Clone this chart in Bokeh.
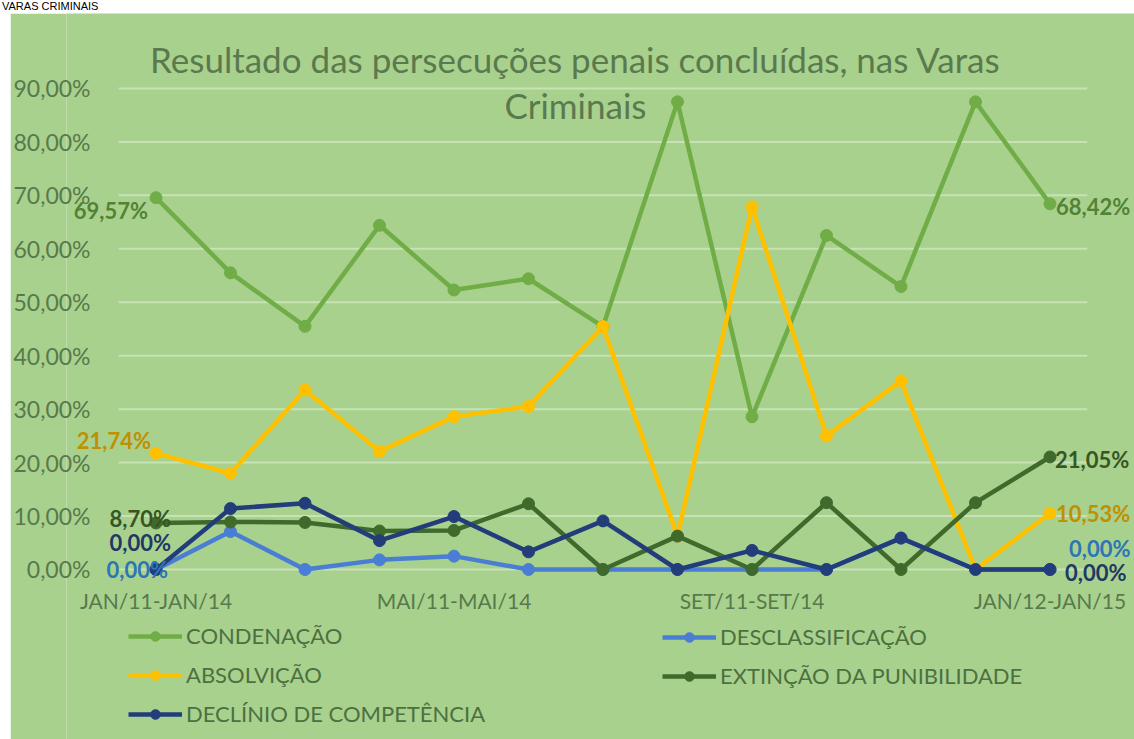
from bokeh.plotting import figure
from bokeh.layouts import column, row
from bokeh.models import (ColumnDataSource, Range1d, FixedTicker, Legend, LegendItem,
                          Label, LabelSet, Div, Spacer)
from bokeh.core.properties import value
from bokeh.embed import file_html
from bokeh.resources import INLINE

# ---------------- data ----------------
categories = ["JAN/11-JAN/14", "FEV/11-FEV/14", "MAR/11-MAR/14", "ABR/11-ABR/14",
              "MAI/11-MAI/14", "JUN/11-JUN/14", "JUL/11-JUL/14", "AGO/11-AGO/14",
              "SET/11-SET/14", "OUT/11-OUT/14", "NOV/11-NOV/14", "DEZ/11-DEZ/14",
              "JAN/12-JAN/15"]
shown_categories = ["JAN/11-JAN/14", "MAI/11-MAI/14", "SET/11-SET/14", "JAN/12-JAN/15"]

condenacao = [69.57, 55.5, 45.5, 64.4, 52.3, 54.4, 45.45, 87.5, 28.57, 62.5, 52.94, 87.5, 68.42]
desclassificacao = [0.0, 7.1, 0.0, 1.8, 2.5, 0.0, 0.0, 0.0, 0.0, 0.0, 5.88, 0.0, 0.0]
absolvicao = [21.74, 18.0, 33.6, 22.1, 28.6, 30.5, 45.45, 6.25, 67.86, 25.0, 35.29, 0.0, 10.53]
extincao = [8.70, 8.9, 8.8, 7.2, 7.3, 12.3, 0.0, 6.25, 0.0, 12.5, 0.0, 12.5, 21.05]
declinio = [0.0, 11.4, 12.4, 5.4, 9.9, 3.3, 9.09, 0.0, 3.57, 0.0, 5.88, 0.0, 0.0]

y_ticks = [0, 10, 20, 30, 40, 50, 60, 70, 80, 90]

page_heading = "VARAS CRIMINAIS"
title_line1 = "Resultado das persecuções penais concluídas, nas Varas"
title_line2 = "Criminais"

# ---------------- styles ----------------
BG = "#a9d18e"
GRID = "#c8e2b6"
AXIS_TXT = "#58794c"
FONT = "Lato"


def pct(v):
    return f"{v:.2f}%".replace(".", ",")


series = [
    # name, values, line colour, label colour
    ("CONDENAÇÃO", condenacao, "#70ad47", "#548235"),
    ("DESCLASSIFICAÇÃO", desclassificacao, "#4a7dd4", "#2e75b6"),
    ("ABSOLVIÇÃO", absolvicao, "#ffc000", "#bf9000"),
    ("EXTINÇÃO DA PUNIBILIDADE", extincao, "#3f6a2c", "#375623"),
    ("DECLÍNIO DE COMPETÊNCIA", declinio, "#223d7a", "#1f3864"),
]

xs = list(range(len(categories)))

p = figure(x_range=Range1d(-1.2013, 13.134), y_range=Range1d(-31.81, 104.03),
           width=1124, height=726, output_backend="svg", toolbar_location=None,
           min_border_left=56, min_border_right=0, min_border_top=0,
           min_border_bottom=0)
p.background_fill_color = BG
p.border_fill_color = BG
p.outline_line_color = None
p.xgrid.visible = False
p.ygrid.visible = False

# horizontal gridlines spanning the category area
p.segment(x0=-0.5, x1=len(categories) - 0.5, y0=y_ticks, y1=y_ticks,
          line_color=GRID, line_width=2)

p.yaxis.ticker = FixedTicker(ticks=y_ticks)
p.yaxis.major_label_overrides = {t: pct(t) for t in y_ticks}
shown_idx = [categories.index(c) for c in shown_categories]
p.xaxis.ticker = FixedTicker(ticks=shown_idx)
p.xaxis.major_label_overrides = {i: categories[i] for i in shown_idx}
for ax in (p.xaxis, p.yaxis):
    ax.axis_line_color = None
    ax.major_tick_line_color = None
    ax.minor_tick_line_color = None
    ax.major_label_text_font = FONT
    ax.major_label_text_color = AXIS_TXT
p.yaxis.major_label_text_font_size = "23px"
p.yaxis.major_label_standoff = -30
p.xaxis.major_label_text_font_size = "21px"
p.xaxis.major_label_standoff = -158

renderers = {}
for name, vals, col, _ in series:
    src = ColumnDataSource(dict(x=xs, y=vals))
    l = p.line("x", "y", source=src, line_color=col, line_width=4.5)
    s = p.scatter("x", "y", source=src, size=12, fill_color=col, line_color=col)
    renderers[name] = [l, s]

legend_style = dict(padding=0, margin=0, spacing=12, label_height=24, glyph_height=24,
                    glyph_width=54, label_standoff=4, background_fill_alpha=0,
                    border_line_color=None, label_text_font=FONT,
                    label_text_font_size="22px", label_text_color="#4d7040")
leg1 = Legend(items=[LegendItem(label=n, renderers=renderers[n])
                     for n in ("CONDENAÇÃO", "ABSOLVIÇÃO", "DECLÍNIO DE COMPETÊNCIA")],
              location=(62, 12), **legend_style)
leg2 = Legend(items=[LegendItem(label=n, renderers=renderers[n])
                     for n in ("DESCLASSIFICAÇÃO", "EXTINÇÃO DA PUNIBILIDADE")],
              location=(596, 50), **legend_style)
p.add_layout(leg1)
p.add_layout(leg2)

# data labels at the first and last points
left_off = {"CONDENAÇÃO": (-8, -13), "ABSOLVIÇÃO": (-5, 13), "EXTINÇÃO DA PUNIBILIDADE": (15, 4),
            "DECLÍNIO DE COMPETÊNCIA": (15, 27), "DESCLASSIFICAÇÃO": (12, 0)}
right_off = {"CONDENAÇÃO": (6, -3), "ABSOLVIÇÃO": (6, 0), "EXTINÇÃO DA PUNIBILIDADE": (5, -3),
             "DECLÍNIO DE COMPETÊNCIA": (15, -3), "DESCLASSIFICAÇÃO": (19, 21)}

for idx, offs, align in ((0, left_off, "right"), (len(xs) - 1, right_off, "left")):
    d = dict(x=[], y=[], text=[], color=[], dx=[], dy=[])
    for name, vals, _, lcol in series:
        d["x"].append(xs[idx])
        d["y"].append(vals[idx])
        d["text"].append(pct(vals[idx]))
        d["color"].append(lcol)
        d["dx"].append(offs[name][0])
        d["dy"].append(offs[name][1])
    p.add_layout(LabelSet(x="x", y="y", text="text", source=ColumnDataSource(d),
                          x_offset="dx", y_offset="dy", text_color="color",
                          text_align=align, text_baseline="middle",
                          text_font=value(FONT), text_font_style="bold",
                          text_font_size="22px"))

# two-line chart title inside the chart area
for txt, yv in ((title_line1, 95.6), (title_line2, 87.0)):
    p.add_layout(Label(x=5.63, y=yv, text=txt, text_align="center",
                       text_baseline="middle", text_font=FONT,
                       text_font_size="35px", text_color="#5a7a4e"))

heading = Div(text=page_heading, width=1134, height=13, margin=0,
              styles={"font-family": "Arial", "font-size": "11px", "line-height": "13px",
                      "color": "#000000", "padding-left": "2px"})
layout = column(heading, row(Spacer(width=10, height=726, margin=0), p, margin=0),
                margin=0, spacing=0)

open("out.html", "w").write(file_html(layout, INLINE))
